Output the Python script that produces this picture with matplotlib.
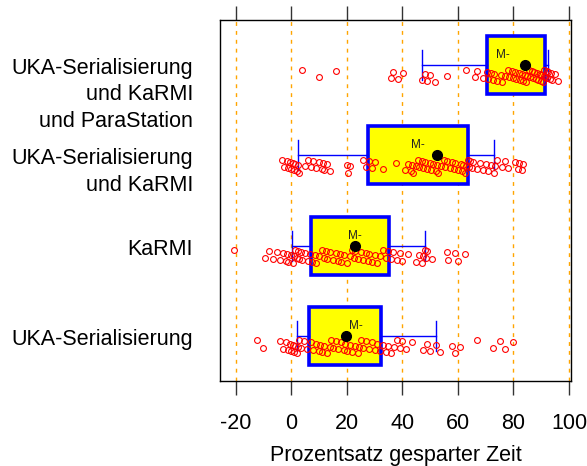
#!/usr/bin/env python3
"""
Box plot of saved time per configuration (lattice bwplot look-alike).
"""

import matplotlib
matplotlib.use("Agg")
import matplotlib.pyplot as plt
import matplotlib.transforms as mtransforms

plt.rcParams['font.family'] = ['Liberation Sans', 'DejaVu Sans']
plt.rcParams['axes.unicode_minus'] = False

# groups, bottom to top
groups = ['UKA-Serialisierung',
          'KaRMI',
          'UKA-Serialisierung\nund KaRMI',
          'UKA-Serialisierung\nund KaRMI\nund ParaStation']

# box statistics
q1 = [6.6, 7.1, 27.6, 70.5]
q3 = [32.4, 35.3, 63.8, 91.4]
whislo = [2.0, 0.2, 2.6, 47.1]
whishi = [52.2, 48.2, 73.0, 92.4]
means = [19.8, 23.0, 52.6, 84.2]
medians = [23.2, 22.8, 45.5, 76.3]

# individual measurements (estimated)
vals_uka = [-12.3, -10.0, -4.0, -3.0, -2.0, -1.0, -0.5, 0.0, 0.5, 1.0, 1.5, 2.0,
            2.5, 3.0, 3.5, 4.5, 5.6, 7.0, 8.0, 9.0, 10.0, 10.5, 11.0, 12.0, 13.0,
            14.0, 14.5, 15.0, 16.0, 17.0, 18.0, 19.0, 19.5, 20.0, 21.0, 22.0,
            23.0, 24.0, 24.5, 25.0, 26.0, 27.0, 28.0, 29.0, 30.0, 31.0, 32.0,
            33.0, 34.0, 35.0, 36.0, 37.0, 38.0, 39.0, 40.0, 41.5, 43.4, 47.5,
            49.0, 50.0, 52.0, 53.6, 57.8, 59.0, 60.8, 66.8, 72.7, 75.0, 77.0, 80.0]
vals_karmi = [-20.7, -9.4, -8.0, -6.5, -5.0, -4.0, -3.0, -2.0, -1.5, -1.0, 0.0,
              0.5, 1.0, 1.5, 2.0, 2.5, 3.0, 3.5, 4.0, 5.0, 6.0, 6.8, 7.5, 8.5,
              9.0, 10.0, 11.0, 12.0, 12.5, 13.0, 14.0, 15.0, 16.0, 17.0, 17.5,
              18.0, 19.0, 20.0, 21.0, 22.0, 22.5, 23.0, 24.0, 25.0, 26.0, 27.0,
              27.5, 28.0, 29.0, 30.0, 31.0, 32.0, 33.0, 34.0, 35.0, 36.0, 36.7,
              38.0, 39.0, 40.0, 42.0, 45.0, 46.0, 47.0, 47.5, 48.0, 48.5, 49.0,
              50.6, 56.0, 56.5, 59.0, 60.0, 62.6]
vals_uka_karmi = [-3.4, -2.5, -1.5, -1.0, -0.5, 0.0, 0.5, 1.0, 1.5, 2.0, 2.5,
                  3.0, 5.0, 6.0, 7.0, 8.0, 9.0, 10.0, 11.0, 11.5, 12.0, 13.0,
                  14.0, 20.0, 20.5, 21.0, 26.0, 27.0, 28.0, 29.0, 30.0, 33.0,
                  37.8, 41.0, 42.0, 43.0, 43.5, 44.0, 45.0, 45.5, 46.0, 47.0,
                  47.5, 48.0, 49.0, 50.0, 50.5, 51.0, 52.0, 52.5, 53.0, 54.0,
                  55.0, 55.5, 56.0, 57.0, 58.0, 58.5, 59.0, 60.0, 61.0, 61.5,
                  62.0, 62.5, 63.0, 63.5, 64.0, 64.5, 65.0, 65.5, 67.0, 68.0,
                  69.0, 70.0, 71.0, 72.0, 73.0, 73.5, 74.0, 76.0, 77.0, 78.0,
                  80.5, 81.5, 82.0, 83.0, 83.5]
vals_para = [3.8, 10.1, 16.1, 35.9, 36.8, 38.6, 40.2, 47.0, 48.2, 49.0, 50.0,
             51.8, 56.0, 63.0, 66.2, 66.8, 69.2, 70.4, 71.0, 72.0, 72.5, 73.0,
             74.0, 75.5, 76.0, 77.0, 78.0, 78.5, 79.5, 80.0, 80.5, 81.0, 82.0,
             82.5, 83.0, 83.5, 84.0, 84.5, 85.0, 85.5, 86.0, 86.5, 87.0, 87.5,
             88.0, 88.5, 89.0, 89.5, 90.0, 90.0, 90.5, 91.0, 91.0, 91.5, 92.0,
             92.0, 92.5, 93.0, 93.5, 94.0, 95.0, 96.0]
values = [vals_uka, vals_karmi, vals_uka_karmi, vals_para]

xticks = [-20, 0, 20, 40, 60, 80, 100]
xlabel = 'Prozentsatz gesparter Zeit'


def main():
    fig = plt.figure(figsize=(5.87, 4.66), dpi=100)
    ax = fig.add_axes([220 / 587, 1 - 381 / 466, 351 / 587, 361 / 466])

    positions = list(range(1, len(groups) + 1))

    # grid lines behind everything
    for t in xticks:
        ax.axvline(t, color='#FFA500', lw=1.0, ls=(0, (2.8, 3.6)), zorder=0)

    stats = []
    for i in range(len(groups)):
        stats.append({'med': medians[i], 'q1': q1[i], 'q3': q3[i],
                      'whislo': whislo[i], 'whishi': whishi[i],
                      'mean': means[i], 'fliers': []})

    ax.bxp(stats, positions=positions, orientation='horizontal',
           widths=0.64, capwidths=0.33, patch_artist=True, showmeans=False,
           showfliers=False,
           boxprops=dict(facecolor='#FFFF00', edgecolor='#0000FF', lw=2.6),
           whiskerprops=dict(color='#0000FF', lw=1.0),
           capprops=dict(color='#0000FF', lw=1.0),
           medianprops=dict(lw=0),
           zorder=2)

    # jittered raw values below the box centre
    for pos, vals in zip(positions, values):
        ys = [pos - 0.05 - 0.14 * ((k * 7) % 13) / 12.0 for k in range(len(vals))]
        ax.plot(vals, ys, 'o', mfc='none', mec='#FF0000', ms=4.2, mew=0.8,
                zorder=3)

    # median marker text
    for pos, m in zip(positions, medians):
        ax.text(m, pos + 0.11, 'M-', ha='center', va='center', fontsize=8.5,
                color='#222222', zorder=4)

    # mean dots on top
    ax.plot(means, positions, 'o', color='black', ms=7, zorder=5)

    ax.set_xlim(-25.6, 100.7)
    ax.set_ylim(0.5, len(groups) + 0.5)
    ax.set_yticks([])
    ax.set_xticks(xticks)
    ax.tick_params(axis='x', which='both', direction='out', length=10,
                   width=1, color='#333333', labelsize=15.5, pad=13,
                   top=True, labeltop=False)
    for s in ax.spines.values():
        s.set_linewidth(1.0)
    ax.set_xlabel(xlabel, fontsize=15.5, labelpad=8)

    # group labels: first line centred on the group, rest hanging below
    trans = mtransforms.blended_transform_factory(ax.transAxes, ax.transData)
    off = mtransforms.ScaledTranslation(0, 5 / 72, fig.dpi_scale_trans)
    for pos, g in zip(positions, groups):
        ax.text(-0.077, pos, g, ha='right', va='top', fontsize=15.5,
                linespacing=1.33, transform=trans + off)

    fig.savefig('out.png', dpi=100)


if __name__ == "__main__":
    main()
